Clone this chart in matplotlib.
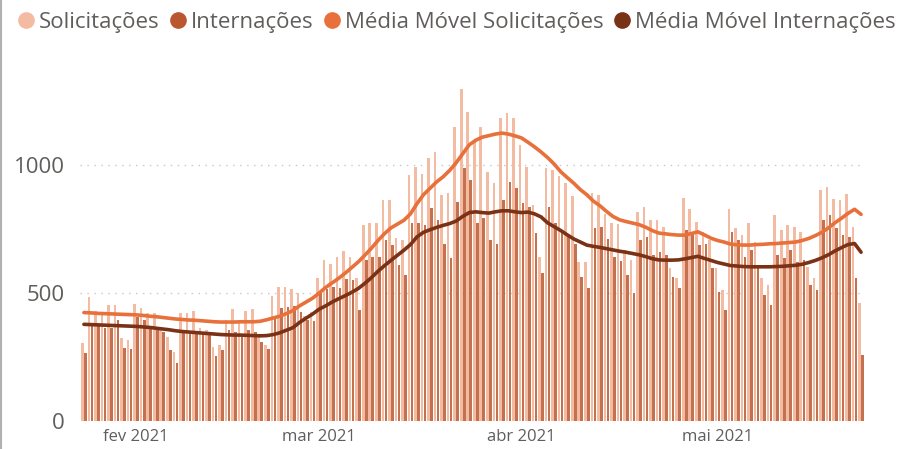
import matplotlib.pyplot as plt
import matplotlib.dates as mdates
import pandas as pd
from matplotlib.lines import Line2D

# dados diários (24/01/2021 a 23/05/2021)
start = '2021-01-24'
solicitacoes = [306, 485, 430, 425, 453, 453, 324, 316, 457, 441,
                421, 421, 368, 329, 271, 421, 421, 430, 363, 355,
                290, 296, 395, 437, 390, 430, 437, 329, 296, 490,
                525, 525, 515, 500, 410, 425, 560, 630, 615, 640,
                665, 640, 560, 766, 773, 773, 863, 863, 715, 707,
                961, 993, 967, 1027, 1052, 883, 890, 1150, 1300, 1210,
                1090, 1150, 974, 930, 1183, 1203, 1183, 1078, 993, 844,
                642, 990, 980, 960, 930, 880, 622, 620, 890, 885,
                810, 775, 770, 668, 629, 818, 837, 785, 785, 759,
                597, 560, 871, 830, 779, 740, 707, 600, 512, 831,
                753, 727, 775, 700, 560, 531, 805, 746, 766, 759,
                740, 603, 560, 902, 915, 870, 866, 889, 759, 461]
internacoes = [264, 375, 370, 363, 363, 395, 285, 281, 407, 395,
               368, 355, 349, 277, 227, 349, 340, 349, 340, 335,
               254, 277, 355, 349, 340, 355, 349, 308, 283, 410,
               440, 445, 450, 425, 395, 390, 510, 515, 525, 520,
               555, 550, 435, 629, 641, 641, 707, 688, 609, 570,
               773, 773, 766, 832, 785, 694, 637, 857, 988, 941,
               773, 792, 707, 694, 863, 935, 910, 851, 837, 734,
               578, 837, 773, 746, 720, 694, 564, 519, 755, 760,
               710, 640, 625, 570, 500, 707, 720, 650, 660, 650,
               564, 519, 746, 740, 688, 694, 597, 505, 434, 740,
               707, 642, 668, 603, 492, 453, 650, 637, 668, 622,
               629, 531, 514, 785, 805, 753, 727, 720, 559, 258]
mm_solicitacoes = [424, 423, 421, 420, 419, 418, 417, 416, 415, 413,
                   410, 408, 405, 402, 399, 397, 395, 394, 392, 390,
                   388, 387, 387, 387, 388, 388, 388, 390, 396, 403,
                   410, 420, 432, 450, 465, 480, 500, 522, 540, 558,
                   578, 600, 622, 648, 675, 705, 732, 755, 770, 785,
                   810, 850, 885, 910, 935, 955, 980, 1010, 1045, 1080,
                   1098, 1110, 1116, 1122, 1126, 1122, 1115, 1107, 1090, 1072,
                   1052, 1030, 1005, 975, 952, 930, 905, 885, 860, 842,
                   820, 800, 787, 780, 774, 768, 758, 745, 735, 732,
                   729, 727, 727, 733, 740, 728, 715, 706, 700, 692,
                   689, 688, 688, 690, 691, 693, 694, 696, 698, 700,
                   706, 714, 725, 738, 755, 775, 793, 812, 828, 808]
mm_internacoes = [378, 377, 376, 375, 374, 373, 372, 371, 370, 368,
                  366, 363, 360, 357, 353, 350, 348, 346, 344, 342,
                  340, 338, 337, 336, 336, 335, 334, 333, 334, 338,
                  345, 355, 365, 385, 402, 418, 437, 450, 465, 478,
                  490, 503, 518, 538, 560, 585, 607, 628, 648, 668,
                  690, 720, 738, 748, 757, 765, 772, 782, 800, 815,
                  818, 815, 813, 818, 822, 822, 818, 815, 817, 810,
                  798, 775, 760, 745, 728, 712, 700, 688, 683, 679,
                  674, 669, 664, 660, 655, 650, 643, 635, 630, 629,
                  629, 630, 634, 639, 644, 636, 628, 620, 614, 608,
                  606, 604, 603, 603, 603, 603, 604, 605, 607, 609,
                  613, 620, 628, 638, 650, 665, 678, 690, 694, 660]
month_ticks = ['2021-02-01', '2021-03-01', '2021-04-01', '2021-05-01']
month_labels = ['fev 2021', 'mar 2021', 'abr 2021', 'mai 2021']

c_sol = '#F4BBA3'
c_int = '#B9582F'
c_mm_sol = '#E8703A'
c_mm_int = '#7A3217'
txt = '#605E5C'

plt.rcParams['font.family'] = ['Open Sans', 'DejaVu Sans']

dates = pd.date_range(start, periods=len(solicitacoes))
x = mdates.date2num(dates)

fig = plt.figure(figsize=(9.01, 4.49), dpi=100)
ax = fig.add_axes([80 / 901, 28 / 449, 785 / 901, 358 / 449])

w = 0.40
ax.bar(x - 0.23, solicitacoes, width=w, color=c_sol, zorder=2)
ax.bar(x + 0.23, internacoes, width=w, color=c_int, alpha=0.85, zorder=2)
ax.plot(x, mm_solicitacoes, color=c_mm_sol, lw=2.6, zorder=4, solid_capstyle='round')
ax.plot(x, mm_internacoes, color=c_mm_int, lw=2.6, zorder=4, solid_capstyle='round')

ax.set_xlim(x[0] - 0.6, x[-1] + 0.6)
ax.set_ylim(0, 1400)
ax.set_yticks([0, 500, 1000])
for v in [500, 1000]:
    ax.axhline(v, color='#c8c8c8', lw=1, ls=(0, (1, 4)), zorder=1)

ax.set_xticks(mdates.date2num(pd.to_datetime(month_ticks)))
ax.set_xticklabels(month_labels)
ax.tick_params(axis='both', length=0, colors=txt)
ax.tick_params(axis='y', pad=11, labelsize=16)
ax.tick_params(axis='x', pad=6, labelsize=12)
for s in ax.spines.values():
    s.set_visible(False)

handles = [Line2D([], [], marker='o', ls='', color=c, markersize=11)
           for c in [c_sol, c_int, c_mm_sol, c_mm_int]]
labels = ['Solicitações', 'Internações', 'Média Móvel Solicitações', 'Média Móvel Internações']
fig.legend(handles, labels, loc='upper left', bbox_to_anchor=(8 / 901, 1.0), ncol=4,
           frameon=False, fontsize=16, labelcolor=txt, handlelength=0.55,
           handletextpad=0.28, columnspacing=0.58, borderaxespad=0.15)

fig.add_artist(Line2D([0.001, 0.001], [0, 1], color='#b0b0b0', lw=1.5))

fig.savefig('out.png', dpi=100)
